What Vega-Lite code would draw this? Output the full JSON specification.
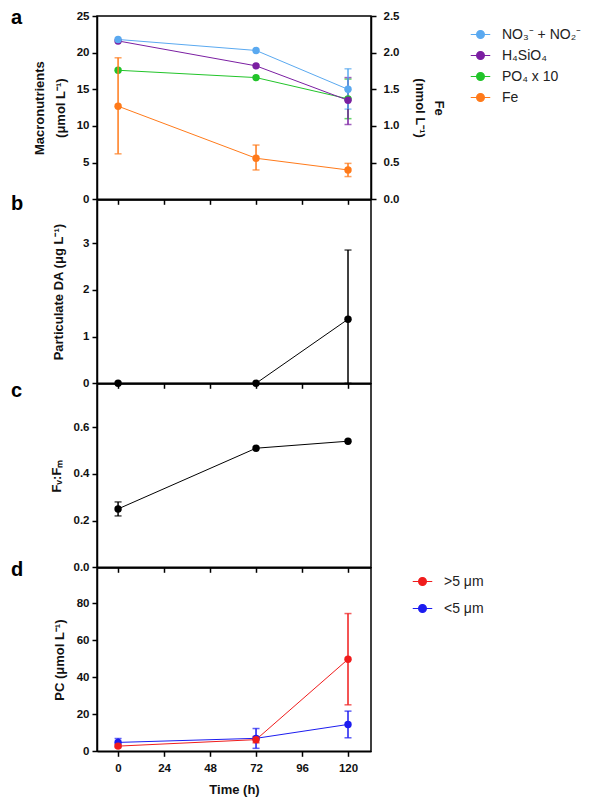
{
  "$schema": "https://vega.github.io/schema/vega-lite/v6.json",
  "background": "white",
  "padding": {"left": 10, "top": 7, "right": 5, "bottom": 5},
  "spacing": 0,
  "bounds": "flush",
  "config": {
    "font": "Liberation Sans",
    "view": {"stroke": "black", "strokeWidth": 1.5},
    "title": {"font": "Liberation Sans", "fontSize": 20, "fontWeight": "bold", "color": "black", "anchor": "start", "frame": "group", "align": "left", "baseline": "middle", "offset": 0, "dx": -86},
    "axis": {
      "grid": false,
      "domainColor": "black",
      "domainWidth": 1.5,
      "tickColor": "black",
      "tickWidth": 1.5,
      "tickSize": 5,
      "labelFont": "Liberation Sans",
      "labelFontWeight": "bold",
      "labelFontSize": 11.5,
      "labelColor": "#111",
      "labelPadding": 3,
      "titleFont": "Liberation Sans",
      "titleFontWeight": "bold",
      "titleFontSize": 13,
      "titleColor": "#111"
    },
    "legend": {
      "labelFont": "Liberation Sans",
      "labelFontSize": 14,
      "labelColor": "#222",
      "labelOffset": 11,
      "symbolStrokeWidth": 1.2,
      "symbolSize": 380,
      "symbolType": "M-1,0L1,0M0.4,0A0.4,0.4,0,1,1,-0.4,0A0.4,0.4,0,1,1,0.4,0Z"
    }
  },
  "resolve": {"scale": {"color": "independent"}, "legend": {"color": "independent"}},
  "vconcat": [
    {
      "name": "pa",
      "title": {"text": "a", "dy": 22},
      "width": 274,
      "height": 183.3,
      "data": {
        "values": [
          {"series": "PO₄ x 10", "t": 0, "v": 17.6},
          {"series": "PO₄ x 10", "t": 72, "v": 16.6},
          {"series": "PO₄ x 10", "t": 120, "v": 13.7, "lo": 11.0, "hi": 16.4},
          {"series": "H₄SiO₄", "t": 0, "v": 21.6},
          {"series": "H₄SiO₄", "t": 72, "v": 18.2},
          {"series": "H₄SiO₄", "t": 120, "v": 13.5, "lo": 10.2, "hi": 16.6},
          {"series": "NO₃⁻ + NO₂⁻", "t": 0, "v": 21.8},
          {"series": "NO₃⁻ + NO₂⁻", "t": 72, "v": 20.3},
          {"series": "NO₃⁻ + NO₂⁻", "t": 120, "v": 15.0, "lo": 12.3, "hi": 17.8},
          {"series": "Fe", "t": 0, "v": 1.27, "lo": 0.62, "hi": 1.93},
          {"series": "Fe", "t": 72, "v": 0.56, "lo": 0.40, "hi": 0.74},
          {"series": "Fe", "t": 120, "v": 0.40, "lo": 0.31, "hi": 0.49}
        ]
      },
      "encoding": {
        "x": {
          "field": "t",
          "type": "quantitative",
          "scale": {"domain": [-11, 132], "nice": false, "zero": false},
          "axis": {"values": [0, 24, 48, 72, 96, 120], "labels": false, "title": null}
        }
      },
      "layer": [
        {
          "transform": [{"filter": "datum.series !== 'Fe'"}],
          "encoding": {
            "y": {
              "field": "v",
              "type": "quantitative",
              "scale": {"domain": [0, 25], "nice": false},
              "axis": {
                "values": [0, 5, 10, 15, 20, 25],
                "title": ["Macronutrients", "(μmol L⁻¹)"],
                "titlePadding": 9,
                "titleLineHeight": 21
              }
            }
          },
          "layer": [
            {
              "mark": {"type": "line", "strokeWidth": 1},
              "encoding": {
                "color": {
                  "field": "series",
                  "type": "nominal",
                  "scale": {
                    "domain": ["NO₃⁻ + NO₂⁻", "H₄SiO₄", "PO₄ x 10", "Fe"],
                    "range": ["#5aa9f0", "#7b1fa2", "#22c42a", "#ff7a1a"]
                  },
                  "legend": {
                    "title": null,
                    "orient": "right",
                    "offset": 17,
                    "padding": 8,
                    "rowPadding": 3,
                    "encode": {"symbols": {"update": {"fill": {"signal": "scale('pa_color', datum.value)"}}}}
                  }
                }
              }
            },
            {
              "transform": [{"filter": "isValid(datum.lo)"}],
              "mark": {"type": "errorbar", "thickness": 1.5, "ticks": {"size": 7}},
              "encoding": {
                "y": {"field": "lo", "type": "quantitative", "scale": {"domain": [0, 25], "nice": false}},
                "y2": {"field": "hi"},
                "color": {"field": "series", "type": "nominal"}
              }
            },
            {
              "mark": {"type": "point", "filled": true, "size": 55, "opacity": 1},
              "encoding": {"color": {"field": "series", "type": "nominal"}}
            }
          ]
        },
        {
          "transform": [{"filter": "datum.series === 'Fe'"}],
          "encoding": {
            "y": {
              "field": "v",
              "type": "quantitative",
              "scale": {"domain": [0, 2.5], "nice": false},
              "axis": {
                "orient": "right",
                "values": [0, 0.5, 1, 1.5, 2, 2.5],
                "format": ".1f",
                "labelPadding": 7,
                "title": ["Fe", "(nmol L⁻¹)"],
                "titlePadding": 14,
                "titleLineHeight": 19
              }
            },
            "color": {"field": "series", "type": "nominal"}
          },
          "layer": [
            {"mark": {"type": "line", "strokeWidth": 1}},
            {
              "mark": {"type": "errorbar", "thickness": 1.5, "ticks": {"size": 7}},
              "encoding": {
                "y": {"field": "lo", "type": "quantitative", "scale": {"domain": [0, 2.5], "nice": false}},
                "y2": {"field": "hi"}
              }
            },
            {"mark": {"type": "point", "filled": true, "size": 55, "opacity": 1}}
          ]
        }
      ],
      "resolve": {"scale": {"y": "independent"}}
    },
    {
      "title": {"text": "b", "dy": 18},
      "width": 274,
      "height": 183.3,
      "data": {
        "values": [
          {"t": 0, "v": 0},
          {"t": 72, "v": 0},
          {"t": 120, "v": 1.37, "lo": 0, "hi": 2.85}
        ]
      },
      "encoding": {
        "x": {
          "field": "t",
          "type": "quantitative",
          "scale": {"domain": [-11, 132], "nice": false, "zero": false},
          "axis": {"values": [0, 24, 48, 72, 96, 120], "labels": false, "title": null}
        },
        "y": {
          "field": "v",
          "type": "quantitative",
          "scale": {"domain": [0, 3.92], "nice": false},
          "axis": {"values": [0, 1, 2, 3], "title": "Particulate DA (μg L⁻¹)", "titlePadding": 17}
        }
      },
      "layer": [
        {"mark": {"type": "line", "strokeWidth": 1, "color": "black"}},
        {
          "transform": [{"filter": "isValid(datum.lo)"}],
          "mark": {"type": "errorbar", "thickness": 1.5, "ticks": {"size": 7}, "color": "black"},
          "encoding": {
            "y": {"field": "lo", "type": "quantitative", "scale": {"domain": [0, 3.92], "nice": false}},
            "y2": {"field": "hi"}
          }
        },
        {"mark": {"type": "point", "filled": true, "size": 55, "opacity": 1, "color": "black"}}
      ]
    },
    {
      "title": {"text": "c", "dy": 21},
      "width": 274,
      "height": 183.3,
      "data": {
        "values": [
          {"t": 0, "v": 0.25, "lo": 0.22, "hi": 0.28},
          {"t": 72, "v": 0.51},
          {"t": 120, "v": 0.54}
        ]
      },
      "encoding": {
        "x": {
          "field": "t",
          "type": "quantitative",
          "scale": {"domain": [-11, 132], "nice": false, "zero": false},
          "axis": {"values": [0, 24, 48, 72, 96, 120], "labels": false, "title": null}
        },
        "y": {
          "field": "v",
          "type": "quantitative",
          "scale": {"domain": [0, 0.785], "nice": false},
          "axis": {"values": [0, 0.2, 0.4, 0.6], "format": ".1f", "title": "Fᵥ:Fₘ", "titlePadding": 10}
        }
      },
      "layer": [
        {"mark": {"type": "line", "strokeWidth": 1, "color": "black"}},
        {
          "transform": [{"filter": "isValid(datum.lo)"}],
          "mark": {"type": "errorbar", "thickness": 1.5, "ticks": {"size": 7}, "color": "black"},
          "encoding": {
            "y": {"field": "lo", "type": "quantitative", "scale": {"domain": [0, 0.785], "nice": false}},
            "y2": {"field": "hi"}
          }
        },
        {"mark": {"type": "point", "filled": true, "size": 55, "opacity": 1, "color": "black"}}
      ]
    },
    {
      "name": "pd",
      "title": {"text": "d", "dy": 16},
      "width": 274,
      "height": 183.3,
      "data": {
        "values": [
          {"size": "<5 μm", "t": 0, "v": 4.8, "lo": 2.7, "hi": 6.9},
          {"size": "<5 μm", "t": 72, "v": 7.0, "lo": 1.6, "hi": 12.3},
          {"size": "<5 μm", "t": 120, "v": 14.5, "lo": 7.3, "hi": 21.7},
          {"size": ">5 μm", "t": 0, "v": 2.8, "lo": 2.0, "hi": 3.6},
          {"size": ">5 μm", "t": 72, "v": 6.3, "lo": 4.6, "hi": 8.0},
          {"size": ">5 μm", "t": 120, "v": 49.7, "lo": 25.1, "hi": 74.4}
        ]
      },
      "encoding": {
        "x": {
          "field": "t",
          "type": "quantitative",
          "scale": {"domain": [-11, 132], "nice": false, "zero": false},
          "axis": {"values": [0, 24, 48, 72, 96, 120], "title": "Time (h)", "labelPadding": 6, "titlePadding": 10}
        },
        "y": {
          "field": "v",
          "type": "quantitative",
          "scale": {"domain": [0, 99], "nice": false},
          "axis": {"values": [0, 20, 40, 60, 80], "title": "PC (μmol L⁻¹)", "titlePadding": 10}
        }
      },
      "layer": [
        {
          "mark": {"type": "line", "strokeWidth": 1},
          "encoding": {
            "color": {
              "field": "size",
              "type": "nominal",
              "scale": {"domain": [">5 μm", "<5 μm"], "range": ["#f01c1c", "#1c1cf0"]},
              "legend": {
                "title": null,
                "orient": "right",
                "offset": 38,
                "padding": 3,
                "rowPadding": 9,
                "encode": {"symbols": {"update": {"fill": {"signal": "scale('pd_color', datum.value)"}}}}
              }
            }
          }
        },
        {
          "mark": {"type": "errorbar", "thickness": 1.5, "ticks": {"size": 7}},
          "encoding": {
            "y": {"field": "lo", "type": "quantitative", "scale": {"domain": [0, 99], "nice": false}},
            "y2": {"field": "hi"},
            "color": {"field": "size", "type": "nominal"}
          }
        },
        {
          "mark": {"type": "point", "filled": true, "size": 55, "opacity": 1},
          "encoding": {"color": {"field": "size", "type": "nominal"}}
        }
      ]
    }
  ]
}
